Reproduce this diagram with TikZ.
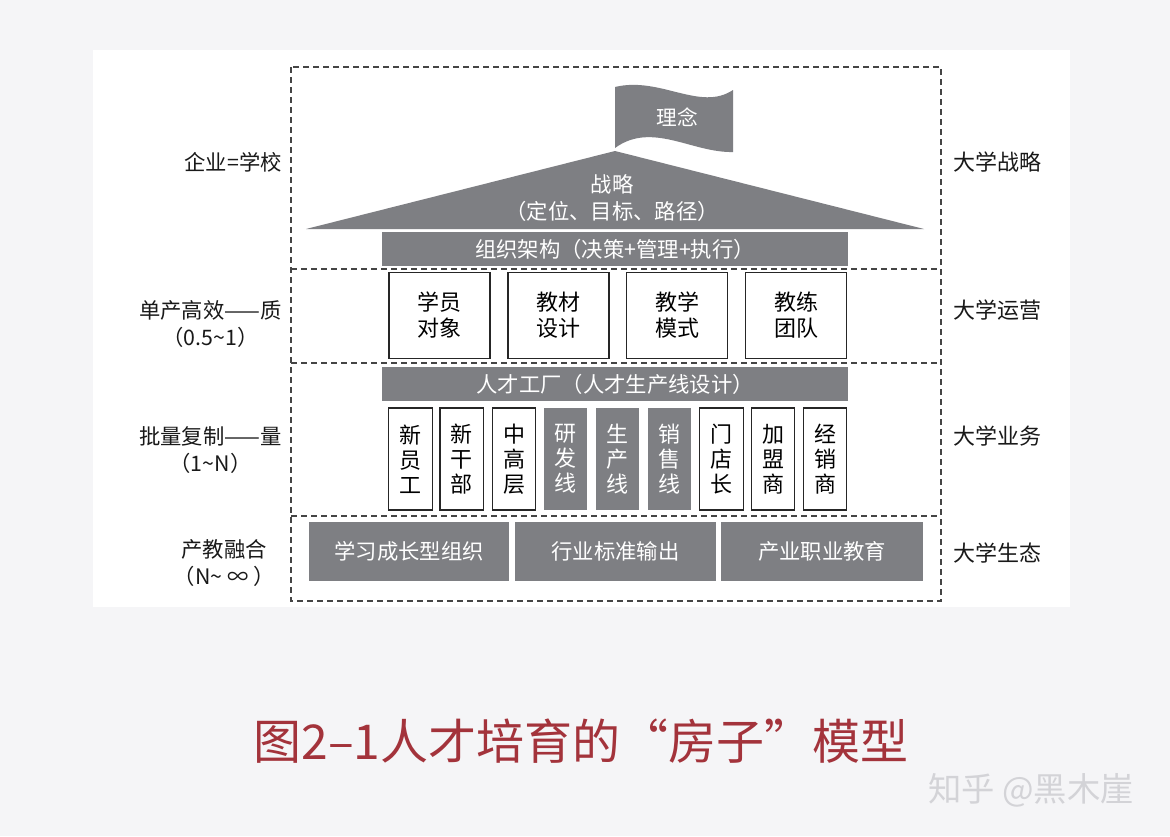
\documentclass[tikz,border=0pt]{standalone}
\usepackage{fontspec}
\setmainfont{Noto Sans CJK SC}
\newcommand\pxu{0.75pt}
\definecolor{bgc}{HTML}{F5F5F7}
\definecolor{barg}{HTML}{7E7F83}
\definecolor{dashc}{HTML}{454545}
\definecolor{capred}{HTML}{A3333B}
\definecolor{wmc}{HTML}{D3D3D7}
\tikzset{
  dashline/.style={draw=dashc, line width=1.1pt, dash pattern=on 4.5pt off 3pt},
  graybar/.style={rectangle, fill=barg, text=white, inner sep=0pt, outer sep=0pt, font=\fontsize{16}{19}\selectfont},
  wbox/.style={rectangle, draw=black!85, line width=1.1pt, fill=white, inner sep=0pt, align=center, font=\fontsize{16.5}{19.5}\selectfont},
  pillarw/.style={rectangle, draw=black!85, line width=1.1pt, fill=white, inner sep=0pt, align=center,
     minimum width=43.5*\pxu, minimum height=102*\pxu, font=\fontsize{16.5}{18.75}\selectfont},
  pillarg/.style={pillarw, draw=none, fill=barg, text=white},
  sidelabel/.style={inner sep=0pt, align=center, font=\fontsize{16}{20.5}\selectfont, text=black!90},
  rightlabel/.style={inner sep=0pt, anchor=west, font=\fontsize{16.5}{19}\selectfont, text=black!90},
}
\begin{document}
\begin{tikzpicture}[x=0.75pt,y=-0.75pt]
\fill[bgc] (0,0) rectangle (1170,836);
\useasboundingbox (0,0) rectangle (1170,836);
\fill[white] (93,50) rectangle (1070,607);

% dashed frame and dividers
\draw[dashline] (291,67) rectangle (941,601);
\draw[dashline] (291,269) -- (941,269);
\draw[dashline] (291,363) -- (941,363);
\draw[dashline] (291,516) -- (941,516);

% flag
\fill[barg] (615,87) .. controls (660,76) and (700,112) .. (733,90)
  -- (733,152) .. controls (692,153) and (652,121) .. (615,148) -- cycle;
\node[text=white, font=\fontsize{15.5}{18}\selectfont] (flag) at (677,117) {理念};

% roof
\fill[barg] (306,229) -- (615,151) -- (924,229) -- cycle;
\node[text=white, font=\fontsize{16}{18}\selectfont, inner sep=0pt] (roof1) at (612,184) {战略};
\node[text=white, font=\fontsize{16}{18}\selectfont, inner sep=0pt] (roof2) at (612,211) {（定位、目标、路径）};

% organisation bar
\node[graybar, minimum width=466*\pxu, minimum height=34*\pxu] (org) at (615,249) {组织架构（决策+管理+执行）};

% operation boxes
\node[wbox, minimum width=101*\pxu, minimum height=86*\pxu] (b1) at (439.5,315.5) {学员\\对象};
\node[wbox, minimum width=101*\pxu, minimum height=86*\pxu] (b2) at (558.5,315.5) {教材\\设计};
\node[wbox, minimum width=101*\pxu, minimum height=86*\pxu] (b3) at (677,315.5) {教学\\模式};
\node[wbox, minimum width=101*\pxu, minimum height=86*\pxu] (b4) at (796,315.5) {教练\\团队};

% factory bar
\node[graybar, minimum width=466*\pxu, minimum height=34*\pxu] (fac) at (615,384) {人才工厂（人才生产线设计）};

% pillars
\node[pillarw] (p1) at (410.5,459) {新\\员\\工};
\node[pillarw] (p2) at (461.75,459) {新\\干\\部};
\node[pillarw] (p3) at (514,459) {中\\高\\层};
\node[pillarg] (p4) at (565.5,459) {研\\发\\线};
\node[pillarg] (p5) at (617.5,459) {生\\产\\线};
\node[pillarg] (p6) at (669.5,459) {销\\售\\线};
\node[pillarw] (p7) at (721.5,459) {门\\店\\长};
\node[pillarw] (p8) at (773,459) {加\\盟\\商};
\node[pillarw] (p9) at (825,459) {经\\销\\商};

% base bars
\node[graybar, minimum width=200*\pxu, minimum height=59*\pxu] (e1) at (409,551.5) {学习成长型组织};
\node[graybar, minimum width=201*\pxu, minimum height=59*\pxu] (e2) at (615.5,551.5) {行业标准输出};
\node[graybar, minimum width=202*\pxu, minimum height=59*\pxu] (e3) at (822,551.5) {产业职业教育};

% left labels
\node[sidelabel, anchor=east] (l1) at (282,162) {企业=学校};
\node[sidelabel, anchor=east] (l2) at (282,324) {单产高效——质\\（0.5\textasciitilde 1）};
\node[sidelabel, anchor=east] (l3) at (282,450) {批量复制——量\\（1\textasciitilde N）};
\node[sidelabel, anchor=east] (l4) at (275,563) {产教融合\\（N\textasciitilde{} ∞ ）};

% right labels
\node[rightlabel] (r1) at (953,162) {大学战略};
\node[rightlabel] (r2) at (953,310) {大学运营};
\node[rightlabel] (r3) at (953,436) {大学业务};
\node[rightlabel] (r4) at (953,553) {大学生态};

% caption and watermark
\node[text=capred, font=\fontsize{36}{42}\selectfont, inner sep=0pt] (cap) at (581,741) {图2–1人才培育的“房子”模型};
\node[text=wmc, font=\fontsize{25}{30}\selectfont, inner sep=0pt] (wm) at (1031,790) {知乎 @黑木崖};
\end{tikzpicture}
\end{document}
